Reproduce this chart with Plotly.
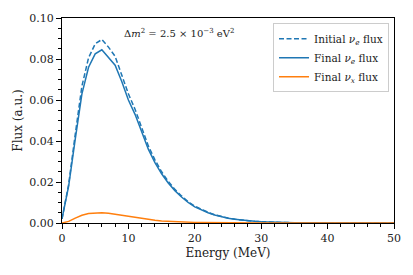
import plotly.graph_objects as go

energy = list(range(0, 51))
final_e = [0.002, 0.018, 0.041, 0.063, 0.076, 0.0825, 0.0845, 0.081, 0.077, 0.069,
           0.060, 0.053, 0.044, 0.036, 0.0295, 0.024, 0.0195, 0.0158, 0.0127, 0.0100,
           0.0079, 0.0063, 0.0050, 0.0039, 0.0030, 0.0023, 0.0018, 0.0014, 0.0011, 0.0008,
           0.0006, 0.00045, 0.00034, 0.00025, 0.00019, 0.00014, 0.0001, 0.00008, 0.00006, 0.00004,
           0.00003, 0.00002, 0.000015, 0.00001, 0.00001, 0.000005, 0.000005, 0.0, 0.0, 0.0, 0.0]
final_x = [0.0, 0.0008, 0.0024, 0.0038, 0.0046, 0.0049, 0.0050, 0.0048, 0.0043, 0.0036,
           0.0030, 0.0025, 0.0020, 0.0016, 0.0013, 0.0010, 0.0008, 0.0006, 0.0005, 0.0004,
           0.0003, 0.00022, 0.00016, 0.00012, 0.00009, 0.00007, 0.00005, 0.00004, 0.00003, 0.00002,
           0.00001, 0.00001, 0.0, 0.0, 0.0, 0.0, 0.0, 0.0, 0.0, 0.0,
           0.0, 0.0, 0.0, 0.0, 0.0, 0.0, 0.0, 0.0, 0.0, 0.0, 0.0]
initial_e = [0.002, 0.0188, 0.0434, 0.0668, 0.0806, 0.0874, 0.0895, 0.0858, 0.0813, 0.0726,
             0.063, 0.0555, 0.046, 0.0376, 0.0308, 0.025, 0.0203, 0.0164, 0.0132, 0.0104,
             0.0082, 0.0065, 0.0052, 0.0040, 0.0031, 0.0024, 0.0019, 0.0014, 0.0011, 0.0008,
             0.0006, 0.00046, 0.00034, 0.00025, 0.00019, 0.00014, 0.0001, 0.00008, 0.00006, 0.00004,
             0.00003, 0.00002, 0.000015, 0.00001, 0.00001, 0.000005, 0.000005, 0.0, 0.0, 0.0, 0.0]

x_ticks = [0, 10, 20, 30, 40, 50]
y_ticks = [0.00, 0.02, 0.04, 0.06, 0.08, 0.10]

BLUE = "#1f77b4"
ORANGE = "#ff7f0e"
FONT = "DejaVu Serif"

fig = go.Figure()
fig.add_trace(go.Scatter(x=energy, y=initial_e, mode="lines",
                         line=dict(color=BLUE, width=1.5, dash="5px,2.5px"),
                         name="Initial <i>ν<sub>e</sub></i> flux"))
fig.add_trace(go.Scatter(x=energy, y=final_e, mode="lines",
                         line=dict(color=BLUE, width=1.5),
                         name="Final <i>ν<sub>e</sub></i> flux"))
fig.add_trace(go.Scatter(x=energy, y=final_x, mode="lines",
                         line=dict(color=ORANGE, width=1.5),
                         name="Final <i>ν<sub>x</sub></i> flux"))

axis_common = dict(showgrid=False, zeroline=False, showline=True, linecolor="black",
                   linewidth=1, mirror=True, ticks="outside", ticklen=5, tickwidth=1,
                   tickcolor="black", tickfont=dict(family=FONT, size=11, color="#222"))

fig.update_xaxes(range=[0, 50], tickvals=x_ticks,
                 minor=dict(ticks="outside", dtick=2, ticklen=3, tickcolor="black"),
                 title=dict(text="Energy (MeV)", font=dict(family=FONT, size=12, color="#222"), standoff=4),
                 **axis_common)
fig.update_yaxes(range=[0, 0.1], tickvals=y_ticks, tickformat=".2f",
                 minor=dict(ticks="outside", dtick=0.005, ticklen=3, tickcolor="black"),
                 title=dict(text="Flux (a.u.)", font=dict(family=FONT, size=12, color="#222"), standoff=4),
                 **axis_common)

fig.add_annotation(x=0.18, y=0.965, xref="paper", yref="paper", xanchor="left", yanchor="top",
                   text="Δ<i>m</i><sup>2</sup> = 2.5 × 10<sup>−3</sup> eV<sup>2</sup>",
                   showarrow=False, font=dict(family=FONT, size=10, color="#222"))

fig.update_layout(
    width=413, height=275,
    margin=dict(l=62, r=17, t=15, b=52),
    paper_bgcolor="white", plot_bgcolor="white",
    font=dict(family=FONT, color="#222"),
    legend=dict(x=0.985, y=0.975, xanchor="right", yanchor="top",
                bgcolor="rgba(255,255,255,0.8)", bordercolor="#ccc", borderwidth=1,
                font=dict(family=FONT, size=10.5, color="#222"), tracegroupgap=0,
                itemwidth=30),
    showlegend=True,
)

fig.write_html("out.html", config={"displayModeBar": False},
               post_script="document.body.style.margin='0';")
